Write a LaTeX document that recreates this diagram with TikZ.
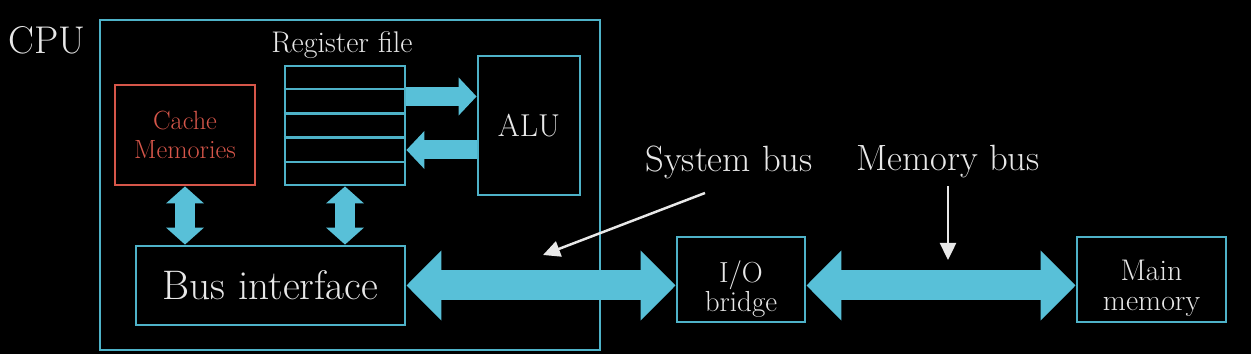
\documentclass[tikz,border=0pt]{standalone}
\usepackage{fontspec}
\usepackage{tikz}
\usetikzlibrary{calc,arrows.meta,positioning}
\definecolor{boxcyan}{RGB}{78,178,200}
\definecolor{buscyan}{RGB}{88,192,216}
\definecolor{cachered}{RGB}{214,86,74}
\definecolor{labelgray}{RGB}{232,232,232}

\begin{document}
\begin{tikzpicture}[
        >=stealth,
        % Style cho các khối
        unitbox/.style={rectangle, draw=boxcyan, line width=1.6pt, text=labelgray, text centered, align=center, inner sep=0pt},
        cachebox/.style={unitbox, draw=cachered, text=cachered},
        tag/.style={text=labelgray, inner sep=1pt, align=center},
        bigbus/.style={buscyan, line width=0.6cm, {Triangle[length=0.7cm, width=1.36cm]}-{Triangle[length=0.7cm, width=1.36cm]}},
        smallbus/.style={buscyan, line width=0.4cm, {Triangle[length=0.34cm, width=0.74cm]}-{Triangle[length=0.34cm, width=0.74cm]}},
        regbus/.style={buscyan, line width=0.38cm, -{Triangle[length=0.36cm, width=0.74cm]}},
        pointer/.style={labelgray, line width=1.4pt, -{Triangle[length=0.34cm, width=0.32cm]}}
    ]

        % Nền đen
        \path[use as bounding box, fill=black] (0,0) rectangle (25.02,7.08);

        % Các khối
        \node[unitbox, minimum width=10cm, minimum height=6.6cm] (cpu) at (7.0, 3.38) {};
        \node[tag, font=\fontsize{22}{25}\selectfont] (cpulabel) at (0.94, 6.28) {CPU};
        \node[cachebox, minimum width=2.8cm, minimum height=2.0cm, font=\fontsize{15}{16.5}\selectfont] (cache) at (3.7, 4.38) {Cache\\Memories};
        \node[unitbox, minimum width=2.4cm, minimum height=2.38cm] (reg) at (6.9, 4.57) {};
        \node[tag, font=\fontsize{17}{19}\selectfont] (reglabel) at (6.84, 6.18) {Register file};
        \node[unitbox, minimum width=2.04cm, minimum height=2.78cm, font=\fontsize{18}{20}\selectfont] (alu) at (10.58, 4.57) {ALU};
        \node[unitbox, minimum width=5.38cm, minimum height=1.58cm, font=\fontsize{23.5}{26}\selectfont] (bus) at (5.41, 1.37) {Bus interface};
        \node[unitbox, minimum width=2.56cm, minimum height=1.7cm] (io) at (14.82, 1.49) {};
        \node[tag, font=\fontsize{16.5}{16.5}\selectfont] (iotext) at ([yshift=-0.19cm]io.center) {I/O\\bridge};
        \node[unitbox, minimum width=2.98cm, minimum height=1.7cm] (mainmem) at (23.03, 1.49) {};
        \node[tag, font=\fontsize{17}{17}\selectfont] (memtext) at ([yshift=-0.18cm]mainmem.center) {Main\\memory};

        % Các hàng thanh ghi
        \foreach \i in {1,...,4}
            \draw[boxcyan, line width=1.6pt] ($(reg.north west)!\i/5!(reg.south west)$) -- ($(reg.north east)!\i/5!(reg.south east)$);

        % Mũi tên bus
        \draw[regbus] ([yshift=0.58cm]reg.east) -- ([yshift=0.58cm]reg.east -| alu.west);
        \draw[regbus] ([yshift=-0.49cm]reg.east -| alu.west) -- ([yshift=-0.49cm]reg.east);
        \draw[smallbus] (cache.south) -- (cache.south |- bus.north);
        \draw[smallbus] (reg.south) -- (reg.south |- bus.north);
        \draw[bigbus] (bus.east) -- (bus.east -| io.west);
        \draw[bigbus] (bus.east -| io.east) -- (bus.east -| mainmem.west);

        % Nhãn bus
        \node[tag, font=\fontsize{20.8}{23}\selectfont] (sysbus) at (14.58, 3.84) {System bus};
        \node[tag, font=\fontsize{20.8}{23}\selectfont] (membus) at (18.96, 3.84) {Memory bus};
        \coordinate (systail) at (14.1, 3.22);
        \coordinate (systip) at (10.86, 1.98);
        \coordinate (memtip) at (18.96, 1.88);
        \draw[pointer] (systail) -- (systip);
        \draw[pointer, shorten <=0.12cm] (membus.south) -- (memtip);

    \end{tikzpicture}
\end{document}
